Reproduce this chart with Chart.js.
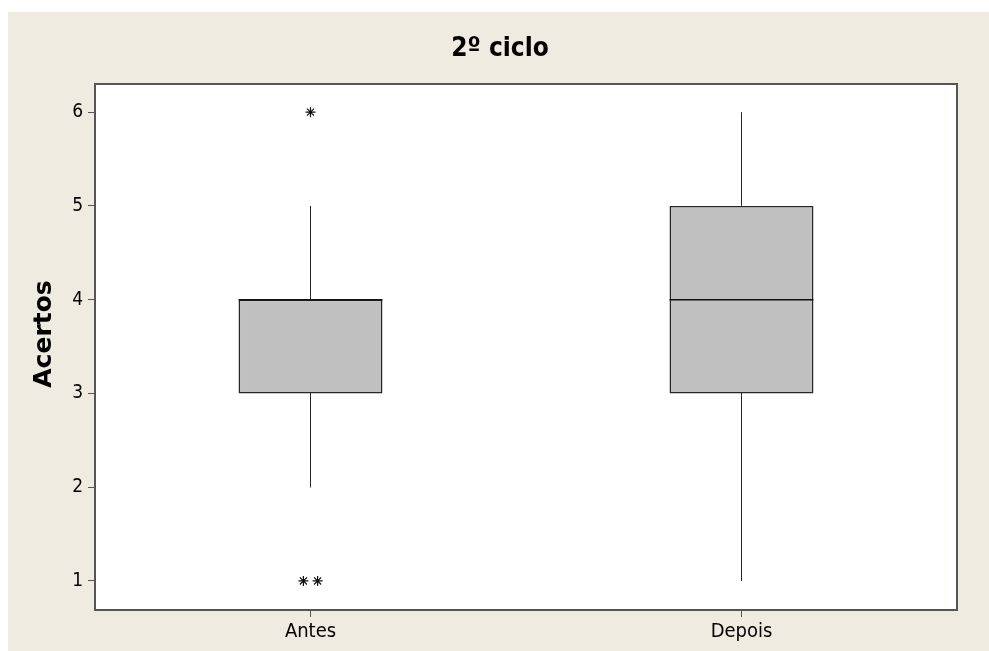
<!DOCTYPE html>
<html>
<head>
<meta charset="utf-8">
<title>2º ciclo</title>
<script src="https://cdn.jsdelivr.net/npm/chart.js@4"></script>
<style>
  html, body { margin: 0; padding: 0; background: #ffffff; }
  #frame {
    position: absolute; left: 8px; top: 12px;
    width: 981px; height: 639px;
    background: #efebe1;
  }
</style>
</head>
<body>
<div id="frame"><canvas id="chart"></canvas></div>
<script>
// Boxplot summary per group
const CATEGORIES = ['Antes', 'Depois'];
const WHISKER_LOW = [2, 1];
const Q1 = [3, 3];
const MEDIAN = [4, 4];
const Q3 = [4, 5];
const WHISKER_HIGH = [5, 6];
// Outlier values, one array per group
const OUTLIERS = [[6, 1, 1], []];
const Y_TICKS = [1, 2, 3, 4, 5, 6];
const Y_TITLE = 'Acertos';

// Drawing style constants
const BOX_WIDTH = 0.334;      // fraction of the category spacing
const TIE_SPACING = 0.033;    // horizontal spread of tied outliers
const FONT = "'DejaVu Sans Condensed', 'DejaVu Sans', sans-serif";
const INK = '#262626';
const FRAME_LINE = '#555555';

const xPos = CATEGORIES.map((_, i) => i + 1);

// Boxes: floating bars from Q1 to Q3
const boxData = xPos.map((x, i) => ({ x, y: [Q1[i], Q3[i]] }));

// Whiskers: vertical segments separated by gaps
const whiskerData = [];
xPos.forEach((x, i) => {
  whiskerData.push({ x, y: Q3[i] }, { x, y: WHISKER_HIGH[i] }, { x, y: null });
  whiskerData.push({ x, y: Q1[i] }, { x, y: WHISKER_LOW[i] }, { x, y: null });
});

// Median lines across each box
const medianData = [];
xPos.forEach((x, i) => {
  medianData.push({ x: x - BOX_WIDTH / 2, y: MEDIAN[i] },
                  { x: x + BOX_WIDTH / 2, y: MEDIAN[i] },
                  { x, y: null });
});

// Outliers: tied values are spread side by side
const outlierData = [];
xPos.forEach((x, i) => {
  const counts = {};
  OUTLIERS[i].forEach(v => { counts[v] = (counts[v] || 0) + 1; });
  const seen = {};
  OUTLIERS[i].forEach(v => {
    const k = seen[v] || 0;
    seen[v] = k + 1;
    const off = (k - (counts[v] - 1) / 2) * TIE_SPACING;
    outlierData.push({ x: x + off, y: v });
  });
});

// White plot area with a closed frame, plus the vertical axis title
const plotFrame = {
  id: 'plotFrame',
  beforeDatasetsDraw(chart) {
    const { ctx, chartArea: a } = chart;
    ctx.save();
    ctx.fillStyle = '#ffffff';
    ctx.fillRect(a.left, a.top, a.right - a.left, a.bottom - a.top);
    ctx.restore();
  },
  afterDraw(chart) {
    const { ctx, chartArea: a } = chart;
    ctx.save();
    ctx.strokeStyle = FRAME_LINE;
    ctx.lineWidth = 2;
    ctx.strokeRect(a.left, a.top, a.right - a.left, a.bottom - a.top);
    ctx.restore();

    ctx.save();
    ctx.translate(36, (a.top + a.bottom) / 2 - 13);
    ctx.rotate(-Math.PI / 2);
    ctx.fillStyle = '#000000';
    ctx.font = "bold 25px 'DejaVu Sans', sans-serif";
    ctx.textAlign = 'center';
    ctx.textBaseline = 'middle';
    ctx.fillText(Y_TITLE, 0, 0);
    ctx.restore();
  }
};

new Chart(document.getElementById('chart'), {
  data: {
    datasets: [
      {
        type: 'bar',
        data: boxData,
        backgroundColor: '#c0c0c0',
        borderColor: INK,
        borderWidth: 1.5,
        borderSkipped: false,
        categoryPercentage: 1,
        barPercentage: BOX_WIDTH,
        order: 3
      },
      {
        type: 'line',
        data: whiskerData,
        borderColor: INK,
        borderWidth: 1,
        pointRadius: 0,
        spanGaps: false,
        order: 2
      },
      {
        type: 'line',
        data: medianData,
        borderColor: '#111111',
        borderWidth: 1.5,
        pointRadius: 0,
        spanGaps: false,
        order: 1
      },
      {
        type: 'scatter',
        data: outlierData,
        pointStyle: 'star',
        pointRadius: 5,
        borderColor: '#111111',
        borderWidth: 1.2,
        backgroundColor: '#111111',
        order: 0
      }
    ]
  },
  options: {
    responsive: true,
    maintainAspectRatio: false,
    animation: false,
    events: [],
    layout: { padding: { left: 35, top: 0, right: 32, bottom: 0 } },
    plugins: {
      legend: { display: false },
      tooltip: { enabled: false },
      title: {
        display: true,
        text: '2º ciclo',
        color: '#000000',
        font: { family: FONT, size: 26, weight: 'bold', lineHeight: 1.2 },
        padding: { top: 22, bottom: 18.8 }
      }
    },
    scales: {
      x: {
        type: 'linear',
        min: 0.5,
        max: 2.5,
        offset: false,
        afterBuildTicks(axis) { axis.ticks = xPos.map(v => ({ value: v })); },
        afterFit(axis) { axis.height = 41; },
        ticks: {
          callback: (v) => CATEGORIES[Math.round(v) - 1],
          color: '#000000',
          font: { family: FONT, size: 20 },
          padding: 3,
          maxRotation: 0,
          autoSkip: false
        },
        grid: {
          offset: false,
          drawOnChartArea: false,
          drawTicks: true,
          tickLength: 7,
          tickColor: FRAME_LINE
        },
        border: { display: false }
      },
      y: {
        type: 'linear',
        min: 0.69,
        max: 6.3,
        afterBuildTicks(axis) { axis.ticks = Y_TICKS.map(v => ({ value: v })); },
        afterFit(axis) { axis.width = 52; },
        ticks: {
          color: '#000000',
          font: { family: FONT, size: 19 },
          padding: 5
        },
        grid: {
          drawOnChartArea: false,
          drawTicks: true,
          tickLength: 7,
          tickColor: FRAME_LINE
        },
        border: { display: false }
      }
    }
  },
  plugins: [plotFrame]
});
</script>
</body>
</html>
